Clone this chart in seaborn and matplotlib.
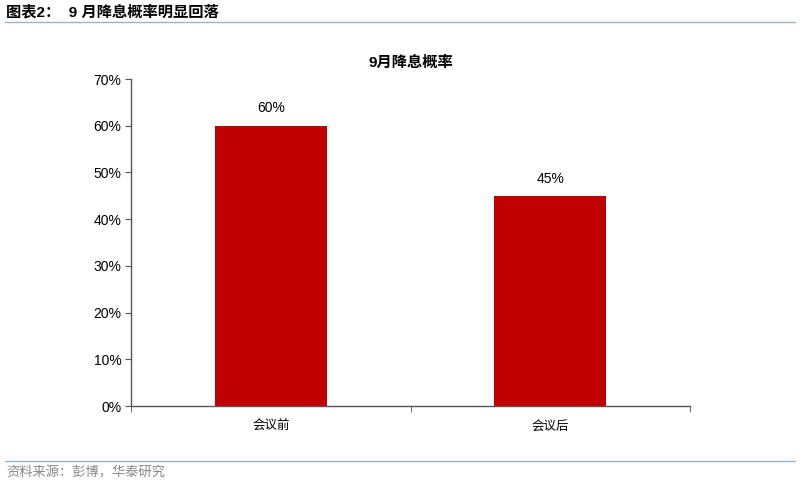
import numpy as np
import pandas as pd
import matplotlib
matplotlib.use('Agg')
import matplotlib.pyplot as plt
import seaborn as sns
from matplotlib.lines import Line2D
from matplotlib.ticker import FuncFormatter

# Dados
categorias = ['会议前', '会议后']
probabilidade = [60, 45]

sns.set_style('white')
plt.rcParams['font.family'] = ['Liberation Sans', 'Noto Sans CJK SC', 'DejaVu Sans']
plt.rcParams['text.color'] = 'black'
plt.rcParams['xtick.color'] = 'black'
plt.rcParams['ytick.color'] = 'black'

df = pd.DataFrame({'cat': categorias, 'prob': probabilidade})

fig = plt.figure(figsize=(8, 4.86), dpi=100)
ax = fig.add_axes([0.164, 0.1646, 0.6985, 0.6728])

sns.barplot(data=df, x='cat', y='prob', color='#C00000', width=0.4,
            saturation=1, linewidth=0, ax=ax)

ax.set_xlim(-0.5, 1.5)
ax.set_ylim(0, 70)
ax.set_yticks(np.arange(0, 71, 10))
ax.yaxis.set_major_formatter(FuncFormatter(lambda v, p: f'{int(v)}%'))
ax.set_xlabel('')
ax.set_ylabel('')

for s in ['top', 'right']:
    ax.spines[s].set_visible(False)
for s in ['left', 'bottom']:
    ax.spines[s].set_color('#555555')
    ax.spines[s].set_linewidth(1)

ax.tick_params(axis='y', which='major', direction='out', length=4,
               color='#555555', labelsize=10, pad=3, left=True)
ax.tick_params(axis='x', which='major', length=0, labelsize=9, pad=10)
ax.set_xticks([-0.5, 0.5, 1.5], minor=True)
ax.tick_params(axis='x', which='minor', direction='out', length=4,
               color='#555555', bottom=True)
ax.set_xticklabels(categorias, family=['Noto Sans CJK SC'])

for i, v in enumerate(probabilidade):
    ax.text(i, v + 2.2, f'{v}%', ha='center', va='bottom', fontsize=10)

ax.set_title('9月降息概率', fontsize=11, fontweight='bold', pad=9,
             family=['Liberation Sans', 'Noto Sans CJK SC'])

# Cabecalho e rodape
fig.text(0.008, 1 - 12 / 486, '图表2：  9 月降息概率明显回落', fontsize=11,
         fontweight='bold', va='center', ha='left',
         family=['Liberation Sans', 'Noto Sans CJK SC'])
fig.add_artist(Line2D([0.006, 0.994], [1 - 22 / 486] * 2, color='#9BB3C8', lw=1))
fig.add_artist(Line2D([0.006, 0.994], [1 - 461 / 486] * 2, color='#9BB3C8', lw=1))
fig.text(0.008, 1 - 473 / 486, '资料来源：彭博，华泰研究', fontsize=9.5,
         color='#888888', va='center', ha='left', family=['Noto Sans CJK SC'])

plt.savefig('out.png', dpi=100)
